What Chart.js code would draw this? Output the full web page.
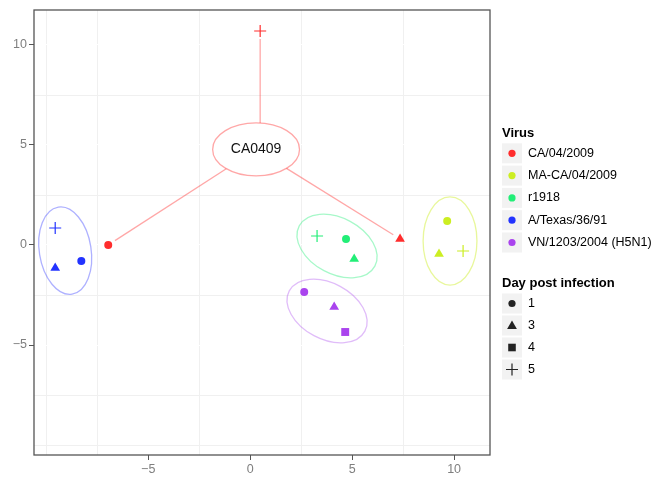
<!DOCTYPE html>
<html>
<head>
<meta charset="utf-8">
<script src="https://cdn.jsdelivr.net/npm/chart.js@4"></script>
<style>
  html, body { margin: 0; padding: 0; background: #fff; }
  #wrap { width: 656px; height: 477px; }
</style>
</head>
<body>
<div id="wrap"><canvas id="pca" width="656" height="477"></canvas></div>
<script>
// virus strains and colours
const viruses = ['CA/04/2009', 'MA-CA/04/2009', 'r1918', 'A/Texas/36/91', 'VN/1203/2004 (H5N1)'];
const virusColors = ['#FF2D2D', '#CCEE22', '#22EE77', '#2233FF', '#AA44EE'];
const dayLabels = ['1', '3', '4', '5'];

// day post infection for each point, per virus
const caDays = [1, 3, 5];
const caX = [-6.96, 7.35, 0.49];
const caY = [0.0, 0.3, 10.7];

const macaDays = [1, 3, 5];
const macaX = [9.66, 9.26, 10.44];
const macaY = [1.2, -0.45, -0.3];

const r1918Days = [5, 1, 3];
const r1918X = [3.28, 4.7, 5.1];
const r1918Y = [0.45, 0.3, -0.7];

const texasDays = [5, 3, 1];
const texasX = [-9.56, -9.56, -8.28];
const texasY = [0.85, -1.15, -0.8];

const vnDays = [1, 3, 4];
const vnX = [2.65, 4.12, 4.66];
const vnY = [-2.35, -3.1, -4.35];

const tickValues = [-10, -7.5, -5, -2.5, 0, 2.5, 5, 7.5, 10];

// group ellipses (centre, semi axes in data units, rotation in degrees)
const groupEllipses = [
  { cx: -9.07, cy: -0.28, a: 1.27, b: 2.16, rot: -9, color: 'rgba(43,51,255,0.38)' },
  { cx: 4.26, cy: -0.05, a: 2.1, b: 1.37, rot: 28, color: 'rgba(34,238,119,0.4)' },
  { cx: 3.77, cy: -3.3, a: 2.1, b: 1.37, rot: 28, color: 'rgba(170,68,238,0.36)' },
  { cx: 9.8, cy: 0.2, a: 1.32, b: 2.16, rot: 0, color: 'rgba(204,238,34,0.45)' }
];
const caLabel = { text: 'CA0409', cx: 0.29, cy: 4.78, a: 2.13, b: 1.3 };

const dayStyle = { 1: 'circle', 3: 'triangle', 4: 'rect', 5: 'cross' };
const dayRadius = { 1: 4, 3: 5.6, 4: 5.6, 5: 6 };

function makeSet(i, days, xs, ys) {
  return {
    label: viruses[i],
    data: xs.map((x, k) => ({ x: x, y: ys[k] })),
    pointStyle: days.map(d => dayStyle[d]),
    pointRadius: days.map(d => dayRadius[d]),
    pointHoverRadius: days.map(d => dayRadius[d]),
    pointBorderWidth: days.map(d => d === 5 ? 1.2 : 0),
    backgroundColor: virusColors[i],
    borderColor: virusColors[i]
  };
}

function fmt(v) {
  if (v % 5 !== 0 || v === -10) return '';
  return v < 0 ? '\u2212' + Math.abs(v) : String(v);
}
function isMajor(v) { return v % 5 === 0 && v !== -10; }

const annotations = {
  id: 'annotations',
  beforeDatasetsDraw(chart) {
    const ctx = chart.ctx;
    const xs = chart.scales.x, ys = chart.scales.y;
    const ppu = (xs.getPixelForValue(1) - xs.getPixelForValue(0));
    ctx.save();
    ctx.lineWidth = 1.3;
    groupEllipses.forEach(e => {
      ctx.strokeStyle = e.color;
      ctx.beginPath();
      ctx.ellipse(xs.getPixelForValue(e.cx), ys.getPixelForValue(e.cy), e.a * ppu, e.b * ppu, e.rot * Math.PI / 180, 0, Math.PI * 2);
      ctx.stroke();
    });
    // CA0409 ellipse with connectors to each CA point
    const cx = xs.getPixelForValue(caLabel.cx), cy = ys.getPixelForValue(caLabel.cy);
    const rx = caLabel.a * ppu, ry = caLabel.b * ppu;
    ctx.strokeStyle = 'rgba(255,45,45,0.42)';
    ctx.beginPath();
    ctx.ellipse(cx, cy, rx, ry, 0, 0, Math.PI * 2);
    ctx.stroke();
    caX.forEach((x, k) => {
      const px = xs.getPixelForValue(x), py = ys.getPixelForValue(caY[k]);
      let dx = px - cx, dy = py - cy;
      ctx.beginPath();
      if (Math.abs(dx) < rx / 3) {
        // straight vertical drop onto the ellipse
        const ey = ry * Math.sqrt(1 - (dx / rx) * (dx / rx));
        const sy = dy < 0 ? -1 : 1;
        ctx.moveTo(px, cy + sy * ey);
        ctx.lineTo(px, py - sy * 8);
      } else {
        const len = Math.sqrt(dx * dx + dy * dy);
        const t = 1 / Math.sqrt((dx / rx) * (dx / rx) + (dy / ry) * (dy / ry));
        ctx.moveTo(cx + dx * t, cy + dy * t);
        ctx.lineTo(px - dx / len * 8, py - dy / len * 8);
      }
      ctx.stroke();
    });
    ctx.fillStyle = '#111';
    ctx.font = '14px "Liberation Sans", Arial, sans-serif';
    ctx.textAlign = 'center';
    ctx.textBaseline = 'middle';
    ctx.fillText(caLabel.text, cx, cy);
    ctx.restore();
  },
  afterDatasetsDraw(chart) {
    const ctx = chart.ctx, a = chart.chartArea;
    ctx.save();
    ctx.strokeStyle = '#555';
    ctx.lineWidth = 1.3;
    ctx.strokeRect(a.left, a.top, a.right - a.left, a.bottom - a.top);
    ctx.restore();
  }
};

function drawSymbol(ctx, style, x, y, color) {
  ctx.fillStyle = color;
  ctx.strokeStyle = color;
  ctx.beginPath();
  if (style === 'circle') {
    ctx.arc(x, y, 3.6, 0, Math.PI * 2);
    ctx.fill();
  } else if (style === 'triangle') {
    ctx.moveTo(x, y - 5);
    ctx.lineTo(x + 4.9, y + 3.5);
    ctx.lineTo(x - 4.9, y + 3.5);
    ctx.closePath();
    ctx.fill();
  } else if (style === 'rect') {
    ctx.rect(x - 3.8, y - 3.8, 7.6, 7.6);
    ctx.fill();
  } else {
    ctx.lineWidth = 1.2;
    ctx.moveTo(x - 6, y); ctx.lineTo(x + 6, y);
    ctx.moveTo(x, y - 6); ctx.lineTo(x, y + 6);
    ctx.stroke();
  }
}

const sideLegend = {
  id: 'sideLegend',
  afterDraw(chart) {
    const ctx = chart.ctx;
    const left = 502;
    ctx.save();
    ctx.textBaseline = 'middle';
    ctx.textAlign = 'left';
    ctx.fillStyle = '#000';
    ctx.font = 'bold 13px "Liberation Sans", Arial, sans-serif';
    ctx.fillText('Virus', left, 133);
    viruses.forEach((v, i) => {
      const cy = 153.3 + i * 22.3;
      ctx.fillStyle = '#f2f2f2';
      ctx.fillRect(left, cy - 10, 20, 20);
      drawSymbol(ctx, 'circle', left + 10, cy, virusColors[i]);
      ctx.fillStyle = '#000';
      ctx.font = '12.5px "Liberation Sans", Arial, sans-serif';
      ctx.fillText(v, 528, cy);
    });
    ctx.font = 'bold 13px "Liberation Sans", Arial, sans-serif';
    ctx.fillText('Day post infection', left, 283);
    dayLabels.forEach((d, i) => {
      const cy = 303.5 + i * 22;
      ctx.fillStyle = '#f2f2f2';
      ctx.fillRect(left, cy - 10, 20, 20);
      drawSymbol(ctx, dayStyle[d], left + 10, cy, '#222');
      ctx.fillStyle = '#000';
      ctx.font = '12.5px "Liberation Sans", Arial, sans-serif';
      ctx.fillText(d, 528, cy);
    });
    ctx.restore();
  }
};

function axisOptions(min, max, isY) {
  return {
    type: 'linear',
    min: min,
    max: max,
    afterBuildTicks: (axis) => { axis.ticks = tickValues.map(v => ({ value: v })); },
    afterFit: (axis) => { if (isY) axis.width = 34; else axis.height = 22; },
    border: { display: false },
    grid: {
      color: (c) => isMajor(c.tick.value) ? '#ffffff' : '#f0f0f0',
      lineWidth: 1,
      tickLength: 5,
      tickColor: (c) => isMajor(c.tick.value) ? '#555' : 'rgba(0,0,0,0)'
    },
    ticks: {
      autoSkip: false,
      maxRotation: 0,
      padding: 2,
      color: '#7f7f7f',
      font: { family: '"Liberation Sans", Arial, sans-serif', size: 12.5 },
      callback: (v) => fmt(v)
    }
  };
}

new Chart(document.getElementById('pca'), {
  type: 'scatter',
  data: {
    datasets: [
      makeSet(0, caDays, caX, caY),
      makeSet(1, macaDays, macaX, macaY),
      makeSet(2, r1918Days, r1918X, r1918Y),
      makeSet(3, texasDays, texasX, texasY),
      makeSet(4, vnDays, vnX, vnY)
    ]
  },
  options: {
    responsive: false,
    devicePixelRatio: 1,
    animation: false,
    layout: { padding: { left: 0, right: 166, top: 10, bottom: 0 } },
    scales: {
      x: axisOptions(-10.6, 11.76, false),
      y: axisOptions(-10.5, 11.75, true)
    },
    plugins: {
      legend: { display: false },
      tooltip: { enabled: false }
    }
  },
  plugins: [annotations, sideLegend]
});
</script>
</body>
</html>
